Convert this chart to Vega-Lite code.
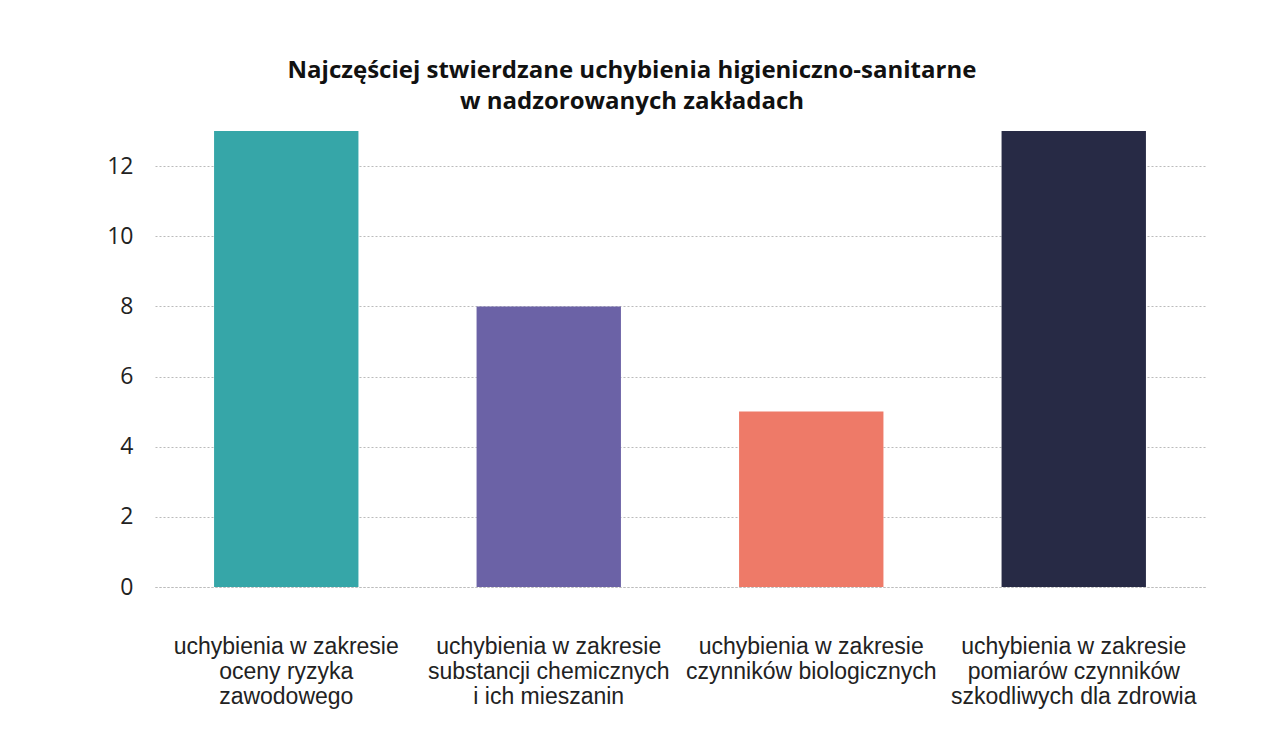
{
  "$schema": "https://vega.github.io/schema/vega-lite/v6.json",
  "width": 1050,
  "height": 456,
  "autosize": {"type": "none"},
  "padding": {"left": 155, "top": 131, "right": 72, "bottom": 169},
  "background": "white",
  "title": {
    "text": ["Najczęściej stwierdzane uchybienia higieniczno-sanitarne", "w nadzorowanych zakładach"],
    "font": "Open Sans",
    "fontSize": 24,
    "fontWeight": "bold",
    "color": "#111111",
    "lineHeight": 31,
    "anchor": "middle",
    "dx": -48,
    "offset": 17
  },
  "data": {
    "values": [
      {"kategoria": "uchybienia  w zakresie|oceny ryzyka|zawodowego", "liczba": 13},
      {"kategoria": "uchybienia w zakresie|substancji chemicznych|i ich mieszanin", "liczba": 8},
      {"kategoria": "uchybienia w zakresie|czynników biologicznych", "liczba": 5},
      {"kategoria": "uchybienia w zakresie|pomiarów czynników|szkodliwych dla zdrowia", "liczba": 13}
    ]
  },
  "mark": {"type": "bar"},
  "encoding": {
    "x": {
      "field": "kategoria",
      "type": "nominal",
      "sort": null,
      "scale": {"paddingInner": 0.45, "paddingOuter": 0.225},
      "axis": {
        "title": null,
        "labelAngle": 0,
        "labelExpr": "split(datum.label, '|')",
        "labelFont": "Liberation Sans",
        "labelFontSize": 23,
        "labelLineHeight": 25,
        "labelColor": "#222222",
        "labelPadding": 48,
        "labelBaseline": "top",
        "labelLimit": 400,
        "ticks": false,
        "domain": true,
        "domainColor": "#bbbbbb",
        "domainDash": [2, 2],
        "domainWidth": 1
      }
    },
    "y": {
      "field": "liczba",
      "type": "quantitative",
      "scale": {"domain": [0, 13], "nice": false},
      "axis": {
        "title": null,
        "values": [0, 2, 4, 6, 8, 10, 12],
        "labelFont": "Open Sans",
        "labelFontSize": 23,
        "labelColor": "#222222",
        "labelPadding": 22,
        "ticks": false,
        "domain": false,
        "grid": true,
        "gridColor": "#bbbbbb",
        "gridDash": [2, 2],
        "gridWidth": 1
      }
    },
    "color": {
      "field": "kategoria",
      "type": "nominal",
      "sort": null,
      "scale": {"range": ["#36a6a8", "#6b62a6", "#ee7a68", "#272a45"]},
      "legend": null
    }
  },
  "config": {"view": {"stroke": null}}
}
